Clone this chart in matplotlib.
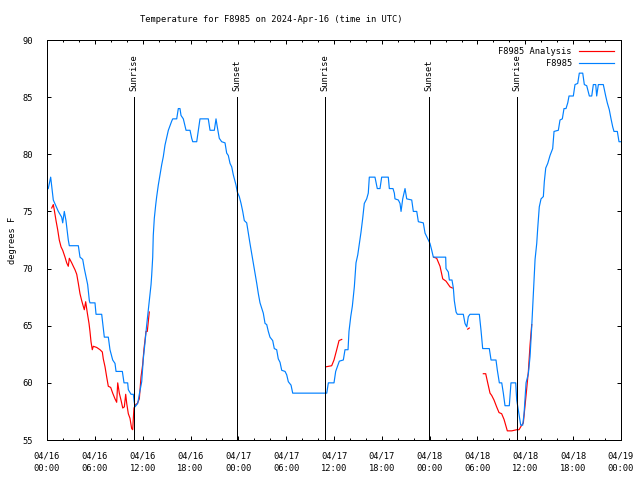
import numpy as np
import matplotlib
matplotlib.use("Agg")
import matplotlib.pyplot as plt

# ---------------------------------------------------------
# Data (hours since 2024-04-16 00:00 UTC, degrees F)
# ---------------------------------------------------------
obs_hours = [
    0.16, 0.46, 0.79, 1.42, 1.84, 1.97, 2.17, 2.38, 2.67, 2.80, 3.93, 4.14, 4.48, 4.68,
    5.10, 5.31, 5.39, 6.02, 6.15, 6.86, 7.19, 7.69, 7.90, 8.24, 8.53, 8.66, 9.45, 9.66,
    10.12, 10.20, 10.54, 10.83, 10.91, 11.04, 11.38, 11.58, 11.88, 12.08, 12.29, 12.51,
    12.71, 12.92, 13.05, 13.13, 13.26, 13.33, 13.46, 13.64, 13.76, 13.96, 14.17, 14.39,
    14.59, 14.80, 15.02, 15.22, 15.64, 15.77, 16.27, 16.47, 16.68, 16.81, 17.10, 17.44,
    17.94, 18.15, 18.28, 18.78, 18.98, 19.19, 20.23, 20.45, 20.99, 21.20, 21.36, 21.61,
    21.91, 22.33, 22.54, 22.74, 22.96, 23.17, 23.37, 23.71, 23.87, 24.12, 24.34, 24.55,
    24.75, 25.05, 25.25, 25.46, 25.68, 25.88, 26.09, 26.31, 26.51, 26.72, 27.13, 27.35,
    27.56, 27.76, 27.97, 28.31, 28.51, 28.81, 29.01, 29.23, 29.44, 29.86, 30.07, 30.27,
    30.61, 30.82, 35.09, 35.29, 36.00, 36.21, 36.67, 37.17, 37.38, 37.76, 37.88, 38.10,
    38.30, 38.55, 38.76, 38.98, 39.18, 39.39, 39.60, 39.80, 40.10, 40.30, 40.43, 41.14,
    41.43, 41.77, 41.98, 42.81, 42.94, 43.40, 43.57, 43.65, 44.07, 44.28, 44.41, 44.62,
    44.91, 45.12, 45.75, 45.95, 46.38, 46.58, 47.20, 47.42, 47.63, 48.04, 48.26, 48.46,
    50.01, 50.05, 50.34, 50.47, 50.80, 50.97, 51.09, 51.31, 51.47, 52.22, 52.43, 52.65,
    52.85, 53.06, 54.23, 54.44, 54.65, 55.48, 55.70, 56.32, 56.49, 56.74, 57.04, 57.24,
    57.45, 57.99, 58.20, 58.79, 58.92, 59.12, 59.42, 59.67, 59.84, 60.09, 60.38, 60.59,
    60.80, 61.00, 61.22, 61.43, 61.55, 61.75, 61.97, 62.26, 62.38, 62.56, 62.81, 63.10,
    63.43, 63.60, 64.14, 64.35, 64.64, 64.85, 65.10, 65.32, 65.48, 66.02, 66.23, 66.57,
    66.77, 67.20, 67.40, 67.70, 68.03, 68.33, 68.53, 68.83, 68.95, 69.16, 69.78, 70.08,
    70.28, 70.53, 70.75, 70.96, 71.12, 71.54, 71.75, 71.96,
]
obs_temps = [
    77.0, 78.0, 76.0, 75.0, 74.5, 74.0, 75.0, 74.2, 72.5, 72.0, 72.0, 71.0, 70.8, 70.0,
    68.6, 67.2, 67.0, 67.0, 66.0, 66.0, 64.0, 64.0, 62.9, 62.0, 61.7, 61.0, 61.0, 60.0,
    60.0, 59.4, 59.0, 59.0, 58.5, 57.9, 58.2, 59.0, 60.1, 62.1, 63.5, 65.1,
    66.4, 67.7, 68.6, 69.4, 71.0, 72.9, 74.4, 75.6, 76.3, 77.3, 78.2, 79.1,
    79.8, 80.8, 81.5, 82.1, 82.9, 83.1, 83.1, 84.0, 84.0, 83.4, 83.1, 82.1,
    82.1, 81.4, 81.1, 81.1, 82.1, 83.1, 83.1, 82.1, 82.1, 83.1, 82.4, 81.4,
    81.1, 81.0, 80.1, 79.9, 79.2, 78.9, 78.2, 77.3, 76.7, 76.3, 75.7, 75.0,
    74.2, 74.0, 73.1, 72.2, 71.3, 70.5, 69.6, 68.7, 67.8, 67.0, 66.1, 65.2,
    65.1, 64.5, 64.0, 63.7, 63.0, 62.9, 62.1, 61.8, 61.1, 61.0, 60.7, 60.1,
    59.8, 59.1, 59.1, 60.0, 60.0, 61.0, 61.9, 62.0, 62.9, 62.9, 64.5, 65.8,
    66.7, 68.4, 70.5, 71.2, 72.2, 73.2, 74.4, 75.7, 76.1, 76.6, 78.0, 78.0,
    77.0, 77.0, 78.0, 78.0, 77.0, 77.0, 76.6, 76.1, 76.0, 75.7, 75.0, 76.1,
    77.0, 76.1, 76.0, 75.0, 75.0, 74.1, 74.0, 73.1, 72.8, 72.2, 71.6, 71.0,
    71.0, 70.0, 69.7, 69.0, 69.0, 68.3, 67.2, 66.2, 66.0, 66.0, 65.2, 64.9,
    65.8, 66.0, 66.0, 64.6, 63.0, 63.0, 62.0, 62.0, 61.1, 60.0, 60.0, 59.1,
    58.0, 58.0, 60.0, 60.0, 58.5, 57.6, 56.3, 56.3, 57.3, 60.0, 60.8, 62.3,
    64.9, 67.8, 70.8, 72.2, 73.5, 75.4, 76.1, 76.3, 77.6, 78.8, 79.2, 79.9,
    80.5, 82.0, 82.1, 83.0, 83.1, 84.0, 84.0, 84.5, 85.1, 85.1, 86.1, 86.2,
    87.1, 87.1, 86.1, 86.0, 85.1, 85.1, 86.1, 86.1, 85.1, 86.1, 86.1, 85.1,
    84.5, 83.9, 83.1, 82.4, 82.0, 82.0, 81.1, 81.1,
]

# analysis series, NaN separates the gaps
ana_hours = [
    0.59, 0.79, 0.92, 1.13, 1.34, 1.54, 1.76, 1.97, 2.26, 2.47, 2.67, 2.80, 3.10, 3.30,
    3.51, 3.73, 3.93, 4.14, 4.35, 4.55, 4.68, 4.85, 5.06, 5.27, 5.39, 5.52, 5.68, 5.81,
    6.23, 6.65, 6.94, 7.06, 7.28, 7.49, 7.69, 7.99, 8.24, 8.53, 8.74, 8.87, 9.07, 9.28,
    9.50, 9.70, 9.87, 10.00, 10.20, 10.41, 10.62, 10.75, 10.83, 10.91, 11.13, 11.33,
    11.58, 11.79, 12.00, 12.17, 12.42, 12.58, 12.83, np.nan,
    34.96, 35.71, 36.00, 36.34, 36.63, 36.97, np.nan,
    48.50, 48.88, 49.30, 49.64, 50.05, 50.55, 50.84, np.nan,
    52.77, 52.97, np.nan,
    54.73, 55.03, 55.28, 55.57, 55.78, 56.07, 56.40, 56.70, 57.03, 57.33, 57.74, 58.30,
    58.92, 59.21, 59.46, 59.75, 60.09, 60.38, 60.59, 60.80,
]
ana_temps = [
    75.3, 75.6, 75.1, 74.2, 73.4, 72.5, 71.9, 71.6, 71.0, 70.5, 70.2, 70.9, 70.5, 70.2,
    69.9, 69.5, 68.7, 67.8, 67.2, 66.7, 66.4, 67.1, 66.1, 65.2, 64.5, 63.6, 62.9, 63.2,
    63.1, 62.9, 62.7, 62.1, 61.4, 60.5, 59.7, 59.6, 59.1, 58.6, 58.3, 60.0, 59.1, 58.5,
    57.8, 57.9, 59.0, 58.2, 57.3, 56.9, 56.0, 55.9, 56.9, 57.8, 58.1, 58.2,
    58.6, 60.5, 61.6, 63.0, 64.5, 64.5, 66.2, np.nan,
    61.4, 61.5, 62.0, 62.9, 63.7, 63.8, np.nan,
    71.0, 70.9, 70.2, 69.1, 68.9, 68.4, 68.3, np.nan,
    64.7, 64.8, np.nan,
    60.8, 60.8, 60.0, 59.1, 58.9, 58.5, 57.9, 57.4, 57.3, 56.8, 55.8, 55.8,
    55.9, 55.9, 56.2, 56.5, 58.9, 61.0, 63.3, 65.1,
]

sun_hours = [10.91, 23.83, 34.87, 47.92, 58.96]
sun_labels = ["Sunrise", "Sunset", "Sunrise", "Sunset", "Sunrise"]

tick_hours = list(range(0, 73, 6))
tick_labels = [
    "04/16\n00:00", "04/16\n06:00", "04/16\n12:00", "04/16\n18:00",
    "04/17\n00:00", "04/17\n06:00", "04/17\n12:00", "04/17\n18:00",
    "04/18\n00:00", "04/18\n06:00", "04/18\n12:00", "04/18\n18:00",
    "04/19\n00:00",
]

# ---------------------------------------------------------
# Plot
# ---------------------------------------------------------
plt.rcParams["font.family"] = ["DejaVu Sans Mono"]
plt.rcParams["font.size"] = 6.3

LW = 0.72  # one pixel at 100 dpi

fig = plt.figure(figsize=(6.4, 4.8), dpi=100)
ax = fig.add_axes([47 / 640, 40 / 480, 574 / 640, 400 / 480])

ax.plot(ana_hours, ana_temps, color="#ff0000", linewidth=0.85,
        label="F8985 Analysis")
ax.plot(obs_hours, obs_temps, color="#0080ff", linewidth=0.85,
        label="F8985")

for h, lab in zip(sun_hours, sun_labels):
    ax.plot([h, h], [55, 85], color="black", linewidth=LW, antialiased=False)
    ax.text(h, 85.5, lab, rotation=90, ha="center", va="bottom")

ax.set_xlim(0, 72)
ax.set_ylim(55, 90)
ax.set_xticks(tick_hours)
ax.set_xticklabels(tick_labels, linespacing=1.6)
ax.set_xticks(range(0, 73, 2), minor=True)
ax.set_yticks(range(55, 91, 5))

ax.tick_params(which="both", direction="in", top=True, right=True, width=LW)
ax.tick_params(which="major", length=3.2)
ax.tick_params(which="minor", length=1.6)
ax.tick_params(axis="x", pad=8)
ax.tick_params(axis="y", pad=10)
for sp in ax.spines.values():
    sp.set_linewidth(LW)

ax.set_ylabel("degrees F", labelpad=4)
fig.text(271 / 640, 1 - 20 / 480, "Temperature for F8985 on 2024-Apr-16 (time in UTC)",
         ha="center", va="center")

ax.legend(loc="upper right", frameon=False, markerfirst=False,
          handlelength=4.0, handletextpad=0.8, labelspacing=0.35,
          borderaxespad=0.4)

fig.savefig("out.png", dpi=100)
